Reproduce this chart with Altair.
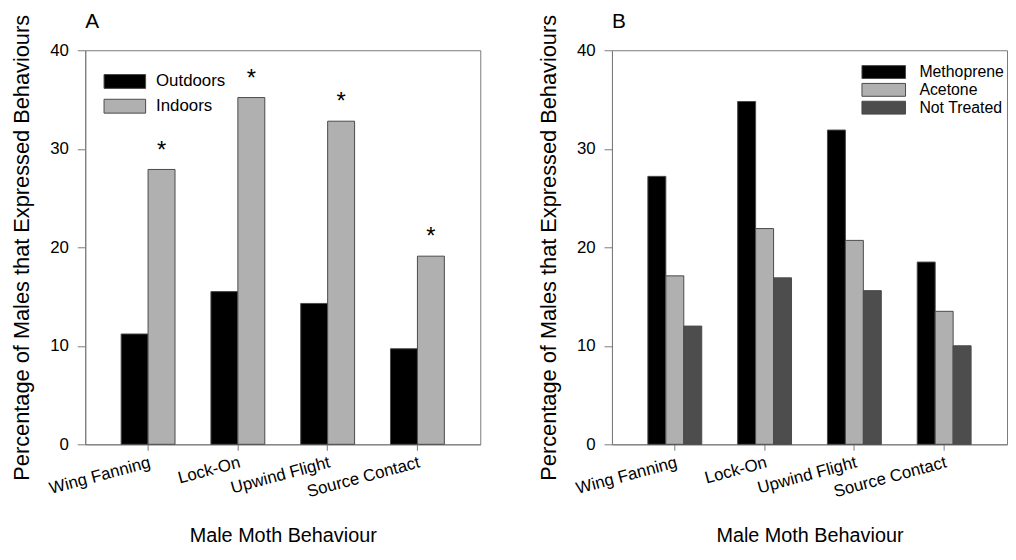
import altair as alt
import pandas as pd

behaviours = ["Wing Fanning", "Lock-On", "Upwind Flight", "Source Contact"]
locations = ["Outdoors", "Indoors"]
outdoors = [11.2, 15.5, 14.3, 9.7]
indoors = [27.9, 35.2, 32.8, 19.1]
significant = ["*", "*", "*", "*"]
treatments = ["Methoprene", "Acetone", "Not Treated"]
methoprene = [27.2, 34.8, 31.9, 18.5]
acetone = [17.1, 21.9, 20.7, 13.5]
not_treated = [12.0, 16.9, 15.6, 10.0]
y_ticks = [0, 10, 20, 30, 40]

FONT = "Liberation Sans"
GREY = "#7a7a7a"
BAR_STROKE = "#4a4a4a"
Y_TITLE = "Percentage of Males that Expressed Behaviours"
X_TITLE = "Male Moth Behaviour"
W = 399
H = 398

df_a = pd.DataFrame({
    "Behaviour": behaviours * 2,
    "Location": ["Outdoors"] * 4 + ["Indoors"] * 4,
    "Value": outdoors + indoors,
})
df_star = pd.DataFrame({
    "Behaviour": behaviours,
    "Location": ["Indoors"] * 4,
    "Value": indoors,
    "Mark": significant,
})
df_b = pd.DataFrame({
    "Behaviour": behaviours * 3,
    "Treatment": ["Methoprene"] * 4 + ["Acetone"] * 4 + ["Not Treated"] * 4,
    "Value": methoprene + acetone + not_treated,
})

X_SCALE = alt.Scale(paddingInner=0.4, paddingOuter=0.4)


def x_enc():
    return alt.X(
        "Behaviour:N", sort=behaviours, scale=X_SCALE,
        axis=alt.Axis(title=X_TITLE, labelAngle=345, labelAlign="right",
                      labelBaseline="top", labelPadding=4, tickSize=6,
                      titlePadding=26, titleFontSize=20),
    )


def y_enc():
    return alt.Y(
        "Value:Q", scale=alt.Scale(domain=[0, 40], nice=False),
        axis=alt.Axis(title=Y_TITLE, values=y_ticks, tickSize=8, labelPadding=9,
                      titlePadding=16, titleFontSize=22),
    )


def legend(x, y, path, size, label_offset, row_padding, symbol_offset, font_size):
    return alt.Legend(
        title=None, orient="none", legendX=x, legendY=y,
        symbolType=path, symbolSize=size, symbolStrokeColor=BAR_STROKE,
        symbolStrokeWidth=1, labelFontSize=font_size, labelOffset=label_offset,
        rowPadding=row_padding, padding=0, symbolOffset=symbol_offset,
    )


def panel_title(letter):
    return alt.TitleParams(letter, anchor="start", frame="group", fontSize=21,
                           fontWeight="normal", offset=-18)


bars_a = alt.Chart(df_a).mark_bar(stroke=BAR_STROKE, strokeWidth=1).encode(
    x=x_enc(),
    xOffset=alt.XOffset("Location:N", sort=locations,
                        scale=alt.Scale(paddingInner=0, paddingOuter=0)),
    y=y_enc(),
    color=alt.Color("Location:N",
                    scale=alt.Scale(domain=locations, range=["#000000", "#b0b0b0"]),
                    legend=legend(18, 23, "M-3,-1L3,-1L3,1L-3,1Z", 196, 23, 6, 13.5, 17)),
)
stars_a = alt.Chart(df_star).mark_text(fontSize=24, baseline="alphabetic", dy=-12,
                                       color="black").encode(
    x=alt.X("Behaviour:N", sort=behaviours, scale=X_SCALE),
    xOffset=alt.XOffset("Location:N", sort=locations,
                        scale=alt.Scale(paddingInner=0, paddingOuter=0)),
    y=alt.Y("Value:Q"),
    text="Mark:N",
)
chart_a = alt.layer(bars_a, stars_a).properties(
    width=W, height=H, title=panel_title("A"),
)

bars_b = alt.Chart(df_b).mark_bar(stroke=BAR_STROKE, strokeWidth=1).encode(
    x=x_enc(),
    xOffset=alt.XOffset("Treatment:N", sort=treatments,
                        scale=alt.Scale(paddingInner=0, paddingOuter=0)),
    y=y_enc(),
    color=alt.Color("Treatment:N",
                    scale=alt.Scale(domain=treatments,
                                    range=["#000000", "#b0b0b0", "#4d4d4d"]),
                    legend=legend(247, 14, "M-3.385,-1L3.385,-1L3.385,1L-3.385,1Z",
                                  169, 28, 0, 19.5, 16)),
)
chart_b = bars_b.properties(width=W, height=H, title=panel_title("B"))

chart = alt.hconcat(chart_a, chart_b, spacing=56).resolve_scale(
    color="independent", xOffset="independent"
).properties(
    padding={"left": 2, "top": 0, "right": 0, "bottom": -4}
).configure(font=FONT).configure_view(
    stroke=GREY, strokeWidth=1
).configure_axis(
    grid=False, domainColor=GREY, tickColor=GREY, labelColor="black",
    titleColor="black", labelFontSize=17, titleFontWeight="normal", labelFont=FONT,
    titleFont=FONT,
).configure_title(font=FONT, color="black")

chart.save("out.html", embed_options={"renderer": "svg", "actions": False})
